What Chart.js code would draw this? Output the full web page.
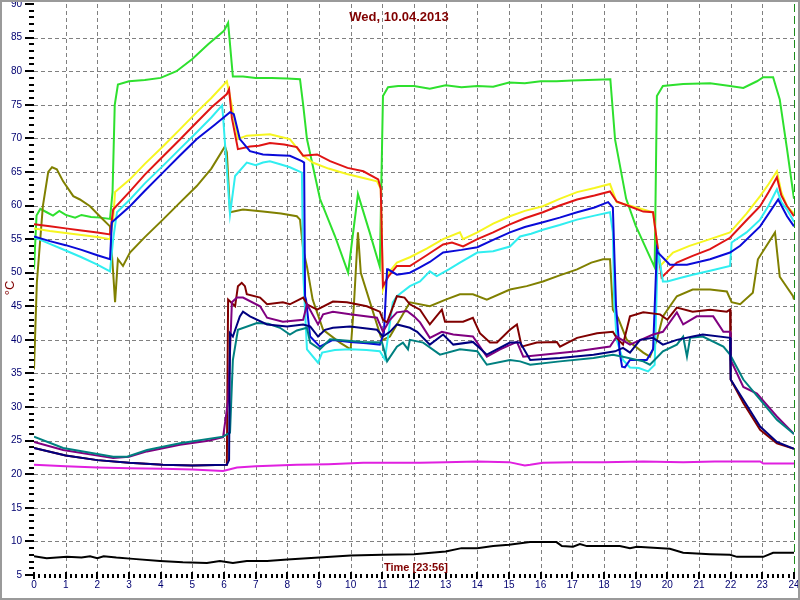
<!DOCTYPE html>
<html><head><meta charset="utf-8">
<script src="https://cdn.jsdelivr.net/npm/chart.js@4/dist/chart.umd.min.js"></script>
<style>html,body{margin:0;padding:0;background:#fff;}#wrap{width:800px;height:600px;position:relative;}</style>
</head><body><div id="wrap"><canvas id="c" width="800" height="600"></canvas></div>
<script>
const titleText = 'Wed, 10.04.2013';
const timeText = 'Time [23:56]';
const unitText = '°C';
const xRange = [0, 24];
const yRange = [5, 90];
const nowHour = 24;

const green = [[0,50.5],[0.08,58.5],[0.2,59.5],[0.4,59],[0.6,58.5],[0.8,59.2],[1.0,58.6],[1.3,58.2],[1.5,58.6],[1.8,58.3],[2.1,58.2],[2.4,58.0],[2.48,62],[2.55,75],[2.65,78],[3.0,78.5],[3.5,78.7],[4.0,79.0],[4.5,80],[5.0,81.8],[5.5,84],[6.0,86],[6.13,87.2],[6.28,79.2],[6.6,79.2],[7.0,79],[7.5,79],[8.0,78.9],[8.4,78.8],[8.5,75],[8.62,69.9],[9.03,61],[9.5,55.5],[9.92,50],[10.23,61.7],[10.6,56],[10.92,50.9],[11.02,76.3],[11.18,77.6],[11.5,77.8],[12.0,77.8],[12.5,77.4],[13,77.9],[13.5,77.6],[14,77.8],[14.5,77.7],[15,78.3],[15.5,78.2],[16,78.5],[16.5,78.5],[17,78.6],[17.5,78.7],[18.2,78.8],[18.35,69.8],[18.7,61],[19.0,57],[19.6,50.8],[19.67,76.3],[19.86,77.8],[20.5,78.1],[21.35,78.2],[21.98,77.8],[22.4,77.5],[22.83,78.5],[23.03,79.1],[23.34,79.1],[23.55,75.8],[23.78,68.4],[24,61]];
const yellow = [[0,56.6],[0.5,56.2],[1,55.9],[1.5,55.6],[2,55.3],[2.4,55.0],[2.5,58],[2.56,62],[3.03,63.9],[3.5,66.2],[4.07,68.8],[4.6,71.3],[5.14,73.9],[5.6,76],[6.09,78.5],[6.2,76],[6.44,69.9],[6.72,70.4],[7.1,70.5],[7.45,70.6],[7.8,70.2],[8.08,69.9],[8.5,67.4],[8.8,66.4],[9.3,65.5],[9.88,64.7],[10.4,64.1],[10.83,63.6],[10.95,62.5],[11.02,47.5],[11.2,50],[11.46,51.5],[11.87,52.3],[12.4,53.6],[12.92,55],[13.45,56],[13.55,55],[14,56],[14.5,57.3],[15.03,58.4],[15.5,59.2],[16.07,59.9],[16.6,61],[17.15,62],[17.7,62.6],[18.19,63.2],[18.4,60.5],[18.8,60],[19.24,59.4],[19.55,59],[19.77,51],[20.18,53],[20.7,54],[21.35,55],[21.98,56],[22.5,58.8],[22.93,61.4],[23.2,63.2],[23.46,65.1],[23.6,62],[23.78,59.9],[24,58.8]];
const red = [[0,57.2],[0.5,56.9],[1,56.6],[1.5,56.3],[2,56],[2.4,55.7],[2.5,59.4],[3.03,62.1],[3.5,64.6],[4.07,67.3],[4.6,69.8],[5.14,72.4],[5.6,74.6],[6.09,76.6],[6.16,77.3],[6.25,73],[6.44,68.4],[6.82,68.8],[7.1,68.9],[7.45,69.3],[7.9,69.1],[8.3,68.7],[8.5,67.4],[8.94,67.6],[9.35,66.6],[9.9,65.6],[10.4,65.1],[10.87,63.9],[10.95,62.5],[11.02,48],[11.2,49.5],[11.46,51],[11.87,51],[12.4,52.6],[12.92,54.2],[13.2,54.5],[13.55,53.9],[14,55],[14.5,56],[15.03,57.2],[15.5,58.1],[16.07,59],[16.6,60],[17.15,60.9],[17.7,61.5],[18.19,62.1],[18.4,60.6],[18.8,59.9],[19.24,59.1],[19.55,59],[19.82,49.3],[20.3,51.5],[20.8,52.5],[21.35,53.5],[21.98,55.2],[22.5,57.8],[22.93,59.9],[23.2,62],[23.46,64.2],[23.6,61.5],[23.78,59.9],[24,58.4]];
const cyan = [[0,55.3],[0.5,54.3],[1,53.3],[1.5,52.3],[2,51.2],[2.4,50.2],[2.5,55],[2.62,59],[3.03,60.9],[3.5,63.3],[4.07,65.9],[4.6,68.4],[5.14,70.9],[5.6,73.1],[5.94,74.9],[5.97,73.3],[6.19,58.7],[6.35,64.4],[6.72,66.4],[7.0,66],[7.23,66.4],[7.45,66.6],[7.8,66.1],[8.08,65.7],[8.46,64.9],[8.5,50],[8.62,38.6],[8.97,36.6],[9.1,38.1],[9.5,38.5],[9.98,38.6],[10.5,38.5],[10.92,38.3],[11.08,37.1],[11.33,45.6],[11.46,46.5],[11.87,48],[12.19,48.7],[12.5,50.2],[12.72,49.5],[13.1,50.5],[13.45,51.5],[14,53],[14.5,53.2],[15.03,53.9],[15.35,55.4],[15.7,55.8],[16.07,56.4],[16.6,57.1],[17.15,57.9],[17.7,58.5],[18.19,59],[18.28,56],[18.32,46],[18.4,40],[18.6,37],[18.82,35.9],[19.1,35.8],[19.39,35.3],[19.6,36.3],[19.7,53.5],[19.86,48.7],[20,48.7],[20.4,49.2],[20.8,49.7],[21.35,50.3],[21.98,51],[22.03,54.5],[22.5,56],[22.93,57.9],[23.2,60],[23.46,62.4],[23.6,60.5],[23.78,59.4],[24,57.6]];
const blue = [[0,55.4],[0.5,54.7],[1,54.1],[1.5,53.4],[2,52.6],[2.4,52],[2.46,57.5],[3.03,59.9],[3.5,62.2],[4.07,64.9],[4.6,67.4],[5.14,69.9],[5.7,72],[6.19,73.9],[6.31,73.6],[6.5,69.9],[6.82,68.1],[7.23,67.6],[7.7,67.5],[8.08,67.4],[8.46,66.6],[8.53,66.4],[8.56,46.5],[8.59,46],[8.72,40.5],[9.03,39],[9.44,40],[9.98,39.7],[10.5,39.5],[10.92,39.3],[11.05,41],[11.15,50.5],[11.18,50.5],[11.46,49.7],[11.87,50],[12.19,50.8],[12.5,51.6],[12.92,53],[13.5,53.4],[14,53.8],[14.5,54.9],[15.03,56],[15.5,56.8],[16.07,57.5],[16.6,58.2],[17.15,59],[17.7,59.7],[18.13,60.5],[18.28,59.7],[18.38,45],[18.5,38],[18.57,36],[18.66,35.9],[18.82,37],[19.35,37],[19.55,38.6],[19.67,53.5],[19.7,53],[20.08,51.2],[20.62,51.2],[21.35,52],[21.98,53],[22.3,54],[22.93,56.9],[23.5,60.9],[23.78,58.4],[24,56.9]];
const olive = [[0,35.6],[0.09,48.5],[0.28,59.9],[0.45,65],[0.57,65.7],[0.72,65.4],[0.92,63.6],[1.24,61.4],[1.45,60.9],[1.77,59.9],[2.1,58.3],[2.4,56.9],[2.5,50],[2.56,45.6],[2.65,52],[2.81,51],[3.03,53],[3.5,55.3],[4.07,57.9],[4.6,60.4],[5.14,62.9],[5.6,65.5],[6.03,68.8],[6.09,67.9],[6.19,59],[6.6,59.4],[7.23,59.1],[7.8,58.8],[8.3,58.4],[8.4,57.9],[8.5,53.5],[8.62,50.9],[8.8,46],[9.13,41.5],[9.66,39.6],[10.0,38.6],[10.1,45],[10.23,56],[10.32,50],[10.95,40.5],[11.02,40],[11.24,40.5],[11.87,45.6],[12.5,45],[13.0,46],[13.45,46.8],[13.86,46.8],[14.3,46],[15.03,47.5],[15.56,48],[16.07,48.7],[16.6,49.6],[17.15,50.5],[17.6,51.5],[17.97,52],[18.19,52],[18.28,44.5],[18.44,43.3],[18.72,40],[19.24,38.1],[19.45,37.5],[19.67,40],[19.86,43.5],[20.3,46.5],[20.8,47.5],[21.35,47.5],[21.88,47.2],[22.03,45.6],[22.3,45.3],[22.7,47],[22.86,52],[23.4,56],[23.55,49.4],[23.97,46.5],[24,46]];
const maroon = [[0,23.9],[1,22.8],[2,22.1],[3,21.7],[4.07,21.4],[5,21.3],[6.09,21.4],[6.12,40],[6.13,46],[6.35,45],[6.44,48],[6.56,48.5],[6.66,48],[6.72,46.8],[7.14,46.3],[7.36,45.3],[7.86,45.6],[8.08,45.3],[8.5,46.3],[8.62,45.3],[8.94,44.5],[9.44,45.7],[9.88,45.6],[10.51,45],[10.92,44.2],[11.02,43],[11.15,42.6],[11.46,46.5],[11.7,46.3],[11.87,45.3],[12.19,44.5],[12.5,42.3],[12.88,44.5],[12.98,42.7],[13.55,42.7],[13.86,43.3],[14.08,41],[14.4,39.6],[14.62,39.6],[15.03,41.5],[15.25,42.3],[15.4,39],[15.88,39.6],[16.51,39.7],[16.61,39],[17.15,40.3],[17.78,41],[18.28,41.2],[18.4,40.3],[18.6,39.3],[18.82,43.5],[19.24,44.1],[19.77,43.8],[20,43],[20.3,44.8],[20.8,44.2],[21.35,44.5],[21.88,44.2],[21.98,44.5],[22,34.1],[22.4,30.6],[22.93,26.6],[23.46,24.6],[24,23.8]];
const purple = [[0,24.8],[0.92,23.6],[2.5,22.4],[3,22.6],[3.57,23.4],[4.61,24.4],[5.5,25],[5.97,25.5],[6.13,31],[6.25,45.6],[6.41,46.3],[6.6,46.3],[7.14,45],[7.36,43.3],[7.86,42.7],[8.5,43],[8.62,45.3],[8.97,42.3],[9.13,43.8],[9.44,44.2],[9.98,43.8],[10.83,43.3],[11.02,41.2],[11.24,43],[11.46,44.1],[11.78,44.3],[12,43.5],[12.19,42.6],[12.5,40.3],[12.88,41.2],[13.24,40.8],[13.86,40.5],[14.3,37.5],[14.72,38.6],[15.25,39.7],[15.45,37.5],[16.07,37.8],[17.15,38.3],[18.19,39],[18.4,40.5],[18.82,39.3],[19.55,40.8],[19.86,41.2],[20.3,44.1],[20.5,42.3],[20.93,43.5],[21.45,43.5],[21.77,41.2],[21.98,41.2],[22,37],[22.4,33],[22.83,32],[23.46,28.6],[24,26]];
const navy = [[0,23.9],[1,22.8],[2,22.1],[3,21.7],[4.07,21.4],[5,21.3],[6.09,21.4],[6.16,22.1],[6.19,41],[6.28,40.5],[6.5,43.5],[6.6,44.2],[6.82,43.5],[7.36,42.3],[7.99,42],[8.5,42.3],[8.72,42],[8.97,40.5],[9.19,41.5],[9.44,41.8],[9.98,42],[10.83,41.5],[11.02,40.5],[11.24,41.2],[11.46,42.3],[11.87,41.8],[12.1,41.2],[12.5,39.3],[12.92,40.8],[13.24,39.3],[13.86,39.7],[14.3,37.8],[15.03,39.6],[15.35,39.6],[15.67,37],[16.61,37.3],[17.67,37.8],[18.35,38.3],[18.6,38.8],[18.82,38.1],[19.14,40],[19.55,40.3],[19.86,39.3],[20.3,40],[20.8,40.5],[21.12,40.8],[21.98,40.3],[22,34.1],[22.4,31.1],[22.93,27.1],[23.46,24.8],[24,23.8]];
const teal = [[0,25.6],[0.92,23.9],[2.5,22.6],[2.94,22.6],[3.57,23.6],[4.61,24.6],[5.97,25.6],[6.19,26.2],[6.28,37],[6.44,41.5],[7.04,42.5],[7.4,42.4],[7.77,41.8],[8.08,40.8],[8.3,41.4],[8.62,41.8],[8.72,39.6],[9.03,38.6],[9.35,40.1],[10.4,39.7],[10.99,39.6],[11.15,36.8],[11.46,39],[11.65,39.6],[11.81,38.6],[11.87,40],[12.29,39.6],[12.82,37.8],[13.45,38.6],[14,38.3],[14.3,36.3],[15.03,37],[15.35,36.8],[15.67,36.3],[16.61,36.8],[17.67,37.3],[18.28,37.8],[18.6,37.5],[19.24,36.8],[19.45,36.3],[19.86,38.3],[20.3,39.3],[20.5,40.5],[20.62,37.5],[20.72,40.3],[21.12,40.5],[21.77,39],[21.98,37.8],[22.4,34.1],[22.93,31.1],[23.46,28.1],[24,26]];
const magenta = [[0,21.4],[1,21.2],[2,21],[3,20.9],[4.07,20.8],[5,20.7],[5.97,20.5],[6.41,21],[7,21.2],[8.3,21.4],[9.3,21.5],[10.4,21.7],[11.3,21.7],[12.19,21.7],[13,21.8],[14,21.9],[15,21.8],[15.5,21.3],[15.67,21.4],[16.07,21.7],[17,21.8],[18,21.8],[19.24,21.9],[20.5,21.8],[21.5,21.9],[22.93,21.9],[23.03,21.6],[24,21.6]];
const black = [[0,7.8],[0.4,7.5],[1.04,7.7],[1.5,7.6],[1.77,7.8],[2,7.5],[2.2,7.8],[2.6,7.6],[3.13,7.4],[3.98,7.1],[4.7,6.9],[5.46,6.8],[5.87,7.1],[6.28,6.8],[6.72,7.1],[7.36,7.1],[8,7.3],[9,7.6],[10,7.9],[11,8],[12,8.1],[13,8.5],[13.5,9],[14,9],[14.5,9.3],[15,9.5],[15.66,9.9],[16.5,9.9],[16.67,9.3],[17.02,9.2],[17.24,9.6],[17.46,9.3],[18.5,9.3],[18.82,9],[19.04,9.2],[20.08,8.9],[20.5,8.3],[21.35,8.1],[21.98,8],[22.2,7.7],[23.03,7.7],[23.34,8.3],[24,8.3]];

const series = [
  ['navy', navy, '#000080'],
  ['teal', teal, '#008080'],
  ['purple', purple, '#800080'],
  ['maroon', maroon, '#800000'],
  ['blue', blue, '#0a0ad8'],
  ['cyan', cyan, '#30eef0'],
  ['red', red, '#e01414'],
  ['yellow', yellow, '#f6f620'],
  ['olive', olive, '#808000'],
  ['green', green, '#2ee02e'],
  ['magenta', magenta, '#e020e0'],
  ['black', black, '#000000']
];

const deco = {
  id: 'deco',
  beforeDraw(chart) {
    const ctx = chart.ctx;
    ctx.save(); ctx.fillStyle = '#fff'; ctx.fillRect(0, 0, chart.width, chart.height); ctx.restore();
  },
  beforeDatasetsDraw(chart) {
    const {ctx, chartArea: a, scales: {x, y}} = chart;
    ctx.save();
    ctx.strokeStyle = '#808080'; ctx.lineWidth = 1; ctx.setLineDash([4, 3]);
    x.ticks.forEach(t => {
      if (t.value <= x.min || t.value >= x.max) return;
      const px = Math.round(x.getPixelForValue(t.value)) + 0.5;
      ctx.beginPath(); ctx.moveTo(px, a.top); ctx.lineTo(px, a.bottom); ctx.stroke();
    });
    y.ticks.forEach(t => {
      if (t.value <= y.min || t.value >= y.max) return;
      const py = Math.round(y.getPixelForValue(t.value)) + 0.5;
      ctx.beginPath(); ctx.moveTo(a.left, py); ctx.lineTo(a.right, py); ctx.stroke();
    });
    ctx.strokeStyle = '#1a8a1a'; ctx.setLineDash([8, 4]);
    const nx = Math.round(x.getPixelForValue(nowHour)) + 0.5;
    ctx.beginPath(); ctx.moveTo(nx, a.top); ctx.lineTo(nx, a.bottom); ctx.stroke();
    ctx.restore();
  },
  afterDraw(chart) {
    const {ctx, chartArea: a, scales: {x, y}} = chart;
    ctx.save();
    ctx.strokeStyle = '#000'; ctx.lineWidth = 2; ctx.setLineDash([]);
    for (let v = yRange[0]; v <= yRange[1]; v++) {
      const py = Math.round(y.getPixelForValue(v));
      const major = v % 5 === 0;
      ctx.beginPath(); ctx.moveTo(a.left - (major ? 9 : 5), py); ctx.lineTo(a.left, py); ctx.stroke();
    }
    for (let m = xRange[0] * 6; m <= xRange[1] * 6; m++) {
      const px = Math.round(x.getPixelForValue(m / 6));
      const major = m % 6 === 0;
      ctx.beginPath(); ctx.moveTo(px, a.bottom - (major ? 3 : 1)); ctx.lineTo(px, a.bottom + (major ? 4 : 3)); ctx.stroke();
    }
    ctx.fillStyle = '#000070';
    ctx.font = '10px "Liberation Sans", Arial, sans-serif';
    ctx.textAlign = 'right'; ctx.textBaseline = 'middle';
    y.ticks.forEach(t => ctx.fillText(String(t.value), a.left - 12, y.getPixelForValue(t.value)));
    ctx.textAlign = 'center'; ctx.textBaseline = 'top';
    x.ticks.forEach(t => ctx.fillText(String(t.value), x.getPixelForValue(t.value), a.bottom + 5));
    ctx.fillStyle = '#800000';
    ctx.font = 'bold 13px "Liberation Sans", Arial, sans-serif';
    ctx.textBaseline = 'middle';
    ctx.fillText(titleText, 399, 17);
    ctx.font = 'bold 11px "Liberation Sans", Arial, sans-serif';
    ctx.fillText(timeText, 416, 568);
    ctx.save();
    ctx.translate(10, 288); ctx.rotate(-Math.PI / 2);
    ctx.font = '13px "Liberation Sans", Arial, sans-serif';
    ctx.fillText(unitText, 0, 0);
    ctx.restore();
    ctx.strokeStyle = '#9a9a9a'; ctx.lineWidth = 2;
    ctx.strokeRect(1, 1, chart.width - 2, chart.height - 2);
    ctx.restore();
  }
};

new Chart(document.getElementById('c'), {
  type: 'line',
  data: {
    datasets: series.map(([name, pts, col]) => ({
      label: name,
      data: pts.map(([h, v]) => ({x: h, y: v})),
      borderColor: col,
      backgroundColor: col,
      borderWidth: 2,
      pointRadius: 0,
      tension: 0,
      fill: false
    }))
  },
  options: {
    responsive: false,
    animation: false,
    devicePixelRatio: 1,
    layout: {padding: {left: 0, top: 4, right: 6, bottom: 0}},
    plugins: {legend: {display: false}, tooltip: {enabled: false}, title: {display: false}},
    scales: {
      x: {
        type: 'linear', min: xRange[0], max: xRange[1],
        ticks: {display: false, stepSize: 1},
        grid: {display: false}, border: {display: false},
        afterFit(s) { s.height = 25; }
      },
      y: {
        type: 'linear', min: yRange[0], max: yRange[1],
        ticks: {display: false, stepSize: 5},
        grid: {display: false}, border: {display: false},
        afterFit(s) { s.width = 34; }
      }
    }
  },
  plugins: [deco]
});
</script>
</body></html>
